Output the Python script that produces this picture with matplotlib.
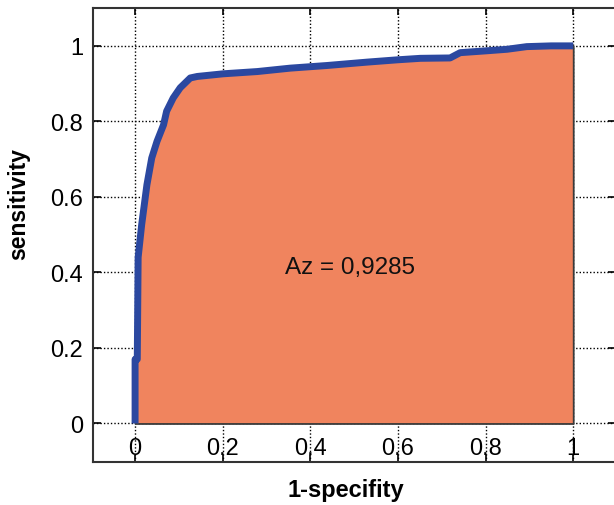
import matplotlib
matplotlib.use("Agg")
import matplotlib.pyplot as plt

# ROC curve
fpr = [0, 0, 0.005, 0.007, 0.015, 0.027, 0.038, 0.05, 0.065, 0.072, 0.087, 0.103,
       0.126, 0.142, 0.201, 0.279, 0.354, 0.438, 0.530, 0.598, 0.651, 0.719, 0.742,
       0.803, 0.849, 0.894, 0.95, 1.0]
tpr = [0, 0.17, 0.17, 0.44, 0.526, 0.632, 0.703, 0.747, 0.791, 0.827, 0.862, 0.889,
       0.915, 0.919, 0.926, 0.932, 0.941, 0.948, 0.957, 0.963, 0.967, 0.968, 0.982,
       0.987, 0.991, 0.998, 1.0, 1.0]
ticks = [0, 0.2, 0.4, 0.6, 0.8, 1]
tick_labels = ["0", "0.2", "0.4", "0.6", "0.8", "1"]
az_text = "Az = 0,9285"

plt.rcParams['font.family'] = ['Liberation Sans', 'DejaVu Sans']

fig = plt.figure(figsize=(6.14, 5.06), dpi=100)
ax = fig.add_axes([0.1515, 0.085, 0.852, 0.897])

ax.fill_between(fpr, tpr, 0, facecolor='#F0845E', edgecolor='#3a3a3a', lw=1.3, zorder=2)
ax.plot(fpr, tpr, color='#2B48A0', lw=5, solid_capstyle='butt', zorder=3)

ax.text(0.49, 0.415, az_text, fontsize=17.5, ha='center', va='center', color='#111111', zorder=4)

ax.set_xlim(-0.096, 1.098)
ax.set_ylim(-0.102, 1.100)
ax.set_xticks(ticks)
ax.set_xticklabels(tick_labels)
ax.set_yticks(ticks)
ax.set_yticklabels(tick_labels)

ax.grid(True, color='black', linestyle=(0, (1, 1.5)), lw=1.0, zorder=1)
ax.set_axisbelow(True)

ax.tick_params(axis='y', direction='in', length=6, width=1.2, left=True, right=True,
               labelsize=17, pad=7)
ax.tick_params(axis='x', direction='in', length=5, width=1.2, top=True, bottom=True,
               labelsize=17, pad=-18)

for s in ax.spines.values():
    s.set_color('#333333')
    s.set_linewidth(1.5)

ax.set_xlabel("1-specifity", fontsize=17, fontweight='bold')
ax.set_ylabel("sensitivity", fontsize=16.5, fontweight='bold')
ax.xaxis.set_label_coords(0.484, -0.035)
ax.yaxis.set_label_coords(-0.12, 0.57)

fig.savefig("out.png", dpi=100)
